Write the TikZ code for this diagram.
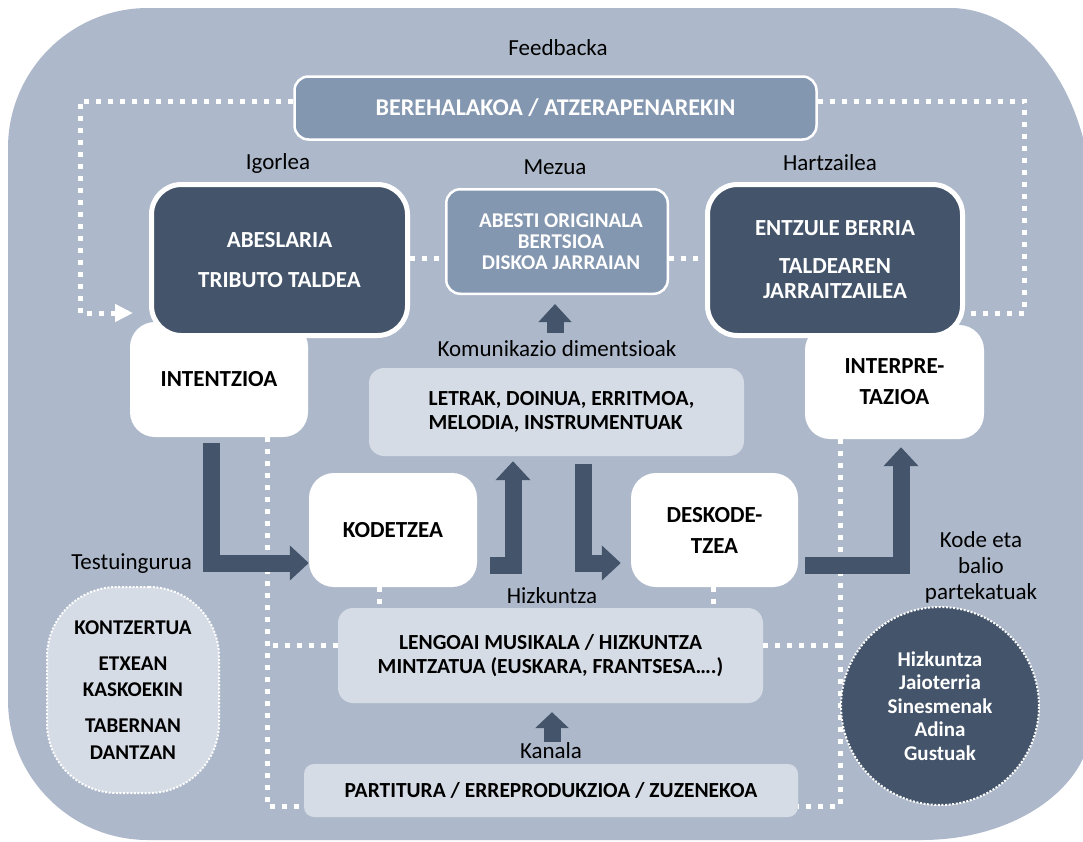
\documentclass[tikz,border=0pt]{standalone}
\usepackage{fontspec}
\setmainfont{Carlito}
\usetikzlibrary{arrows.meta,calc}
\definecolor{panel}{HTML}{ADB9CA}
\definecolor{slate}{HTML}{44546A}
\definecolor{steel}{HTML}{8497B0}
\definecolor{mist}{HTML}{D6DCE5}
\begin{document}
\begin{tikzpicture}[x=1pt,y=-1pt,
  lbl/.style={inner sep=0pt, text=black, align=center, font=\fontsize{23}{26}\selectfont},
  actor/.style={draw=white, line width=5pt, fill=slate, rounded corners=30pt, text=white,
    inner sep=0pt, align=center, font=\bfseries\fontsize{23}{25}\selectfont},
  msgbox/.style={draw=white, line width=2.5pt, fill=steel, rounded corners=14pt, text=white,
    inner sep=0pt, align=center},
  stage/.style={fill=white, rounded corners=25pt, inner sep=0pt, align=center,
    font=\bfseries\fontsize{23}{31}\selectfont},
  layer/.style={fill=mist, rounded corners=15pt, inner sep=0pt, align=center,
    font=\bfseries\fontsize{21.5}{24.5}\selectfont},
  link/.style={draw=white, line width=5pt, dash pattern=on 5pt off 7pt},
  fine/.style={draw=white, line width=2pt, dash pattern=on 2pt off 1.6pt},
  flow/.style={draw=slate, line width=17pt, -{Triangle[length=19pt,width=34pt]}},
]
\useasboundingbox (0,0) rectangle (1083,841);

% panel behind everything
\fill[panel] (148,8) -- (950,8) .. controls (1028.4,8) and (1092,97.5) .. (1092,208)
  -- (1092,720) .. controls (1092,786.3) and (1015.9,840) .. (922,840)
  -- (148,840) .. controls (70.7,840) and (8,777.3) .. (8,700)
  -- (8,148) .. controls (8,70.7) and (70.7,8) .. (148,8) -- cycle;

% process stages
\node[stage, minimum width=178pt, minimum height=115pt] (intent) at (219,379.5) {INTENTZIOA};
\node[stage, minimum width=179pt, minimum height=114pt] (interp) at (894.5,382) {INTERPRE-\\TAZIOA};
\node[stage, minimum width=168pt, minimum height=114pt] (kode) at (393,530) {KODETZEA};
\node[stage, minimum width=167pt, minimum height=114pt] (desk) at (714.5,530) {DESKODE-\\TZEA};

% feedback, sender, message, receiver
\node[msgbox, minimum width=522pt, minimum height=63pt, font=\bfseries\fontsize{24}{26}\selectfont]
  (fb) at (555.5,108) {BEREHALAKOA / ATZERAPENAREKIN};
\node[actor, minimum width=256pt, minimum height=151pt] (igor) at (279.5,260)
  {ABESLARIA\\[15pt]TRIBUTO TALDEA};
\node[actor, minimum width=255pt, minimum height=151pt] (hartz) at (835,260)
  {ENTZULE BERRIA\\[13pt]TALDEAREN\\JARRAITZAILEA};
\node[msgbox, minimum width=221.5pt, minimum height=104.5pt, font=\bfseries\fontsize{21}{21}\selectfont]
  (mez) at (557,241.5) {\hspace*{8pt}ABESTI ORIGINALA\\\hspace*{8pt}BERTSIOA\\\hspace*{8pt}DISKOA JARRAIAN};

% light layers
\node[layer, minimum width=375pt, minimum height=88pt, align=left] (komu) at (556.5,412)
  {\hspace*{10pt}LETRAK, DOINUA, ERRITMOA,\\\hspace*{10pt}MELODIA, INSTRUMENTUAK};
\node[layer, minimum width=425pt, minimum height=95pt] (leng) at (550.5,655.5)
  {LENGOAI MUSIKALA / HIZKUNTZA\\MINTZATUA (EUSKARA, FRANTSESA….)};
\node[layer, rounded corners=10pt, minimum width=494pt, minimum height=53pt] (part) at (551,790.5)
  {PARTITURA / ERREPRODUKZIOA / ZUZENEKOA};

% dotted links
\draw[link, -{Triangle[length=18pt,width=17pt]}] ($(fb.west)+(0,-7)$) -- ++(-213,0) |- ($(igor.west)+(-16,53)$);
\draw[link] ($(fb.east)+(0,-7)$) -- ++(207,0) |- ($(hartz.east)+(0,53)$);
\draw[link] ($(igor.east)+(0,-2)$) coordinate (t1) -- (t1 -| mez.west);
\draw[link] ($(mez.east)+(0,16.5)$) coordinate (t2) -- (t2 -| hartz.west);
\draw[link] ($(intent.south)+(48,0)$) |- ($(part.west)+(0,16)$);
\draw[link] ($(leng.west)+(0,-10)$) -- ++(-71,0);
\draw[link] ($(interp.south)+(-54.5,0)$) |- ($(part.east)+(0,16)$);
\draw[link] ($(leng.east)+(0,-10)$) -- ++(77,0);
\draw[link] ($(kode.south)+(-14,0)$) coordinate (s1) -- (s1 |- leng.north);
\draw[link] ($(desk.south)+(-1.5,0)$) coordinate (s2) -- (s2 |- leng.north);

% context and shared values
\node[fill=mist, fine, rounded corners=70pt, minimum width=172pt, minimum height=206pt,
  inner sep=0pt, align=center, text=black, font=\bfseries\fontsize{21}{26.5}\selectfont]
  (ctx) at (133,690) {KONTZERTUA\\[9.5pt]ETXEAN\\KASKOEKIN\\[9.5pt]TABERNAN\\DANTZAN};
\node[circle, fill=slate, fine, minimum size=198pt, inner sep=0pt, align=center, text=white,
  font=\bfseries\fontsize{21}{23.5}\selectfont]
  (vals) at (940,706) {Hizkuntza\\Jaioterria\\Sinesmenak\\Adina\\Gustuak};

% labels
\node[lbl] (lfb) at (558,48) {Feedbacka};
\node[lbl] (ligor) at (278,163) {Igorlea};
\node[lbl] (lmez) at (555,167) {Mezua};
\node[lbl] (lhartz) at (830,163) {Hartzailea};
\node[lbl] (lkomu) at (557,349) {Komunikazio dimentsioak};
\node[lbl, anchor=east] (lctx) at (192,564) {Testuingurua};
\node[lbl] (lleng) at (552,596) {Hizkuntza};
\node[lbl] (lkan) at (551,751) {Kanala};
\node[lbl] (lkode) at (981,567) {Kode eta\\balio\\partekatuak};

% flow arrows
\draw[flow] ($(intent.south)+(-8,6)$) |- ($(kode.west)+(0,33)$);
\draw[flow] ($(kode.east)+(13,35)$) -| ($(komu.south)+(-43.5,5)$);
\draw[flow] ($(komu.south)+(27,8)$) |- ($(desk.west)+(-10,33)$);
\draw[flow] ($(desk.east)+(7,35)$) -| ($(interp.south)+(6.5,8)$);
\draw[flow, -{Triangle[length=18pt,width=32pt]}] ($(mez.south)+(-2,38)$) -- ($(mez.south)+(-2,9)$);
\draw[flow, -{Triangle[length=16pt,width=33pt]}] ($(leng.south)+(1.5,39)$) -- ($(leng.south)+(1.5,9)$);
\end{tikzpicture}
\end{document}
